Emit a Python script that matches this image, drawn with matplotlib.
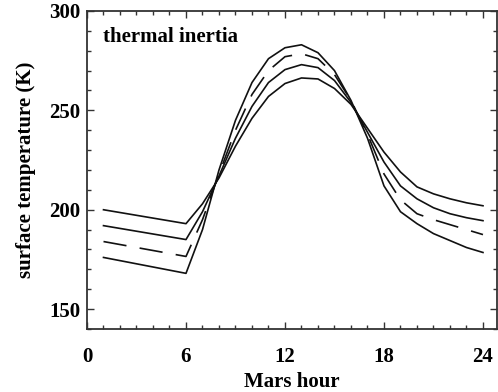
import matplotlib
matplotlib.use("Agg")
import matplotlib.pyplot as plt
from matplotlib.ticker import MultipleLocator

hours = [1, 6, 7, 8, 9, 10, 11, 12, 13, 14, 15, 16, 17, 18, 19, 20, 21, 22, 23, 24]
temp_high_ti = [200, 193, 203, 216, 232, 246, 257, 263.5, 266.3, 265.8, 261, 253, 241, 229, 219, 211.5, 208, 205.5, 203.5, 202]
temp_mid_ti = [192, 185, 199, 217, 236, 252, 264, 270.5, 273, 271.5, 265, 254, 239, 224, 212, 205.5, 201, 198, 196, 194.5]
temp_lowmid_ti = [184, 176.5, 195, 218, 240, 258, 270, 277, 278.5, 276, 268, 255, 238, 218, 205, 198, 195, 192.5, 190, 187.5]
temp_low_ti = [176, 168, 190, 220, 245, 264, 276, 281.5, 283, 279, 270, 255, 236, 212, 199, 193, 188, 184.5, 181, 178.5]

xticks = [0, 6, 12, 18, 24]
yticks = [150, 200, 250, 300]

plt.rcParams['font.family'] = ['Liberation Serif', 'DejaVu Serif']

fig = plt.figure(figsize=(4.98, 3.92), dpi=100)
ax = fig.add_axes([0.1747, 0.1607, 0.8233, 0.8113])

lw = 1.2
ax.plot(hours, temp_high_ti, color='#111111', lw=lw)
ax.plot(hours, temp_mid_ti, color='#111111', lw=lw)
ax.plot(hours, temp_lowmid_ti, color='#111111', lw=lw, dashes=(14, 8))
ax.plot(hours, temp_low_ti, color='#111111', lw=lw)

ax.set_xlim(0, 24.85)
ax.set_ylim(140, 300)
ax.set_xticks(xticks)
ax.set_yticks(yticks)
ax.xaxis.set_minor_locator(MultipleLocator(1))
ax.yaxis.set_minor_locator(MultipleLocator(10))
ax.tick_params(which='both', direction='in', top=True, right=True, colors='#333333',
               labelcolor='black', width=1.0)
ax.tick_params(which='major', length=5, labelsize=15)
ax.tick_params(axis='x', which='major', pad=13)
ax.tick_params(axis='y', which='major', pad=5)
ax.tick_params(which='minor', length=3)
for lab in ax.get_xticklabels() + ax.get_yticklabels():
    lab.set_fontweight('bold')
for s in ax.spines.values():
    s.set_linewidth(1.3)
    s.set_color('#333333')

ax.set_xlabel('Mars hour', fontsize=15, fontweight='bold', labelpad=3.5)
ax.set_ylabel('surface temperature (K)', fontsize=15, fontweight='bold', labelpad=9)
ax.text(0.039, 0.9025, 'thermal inertia', transform=ax.transAxes, fontsize=15,
        fontweight='bold', ha='left', va='baseline')

fig.savefig('out.png', dpi=100)
